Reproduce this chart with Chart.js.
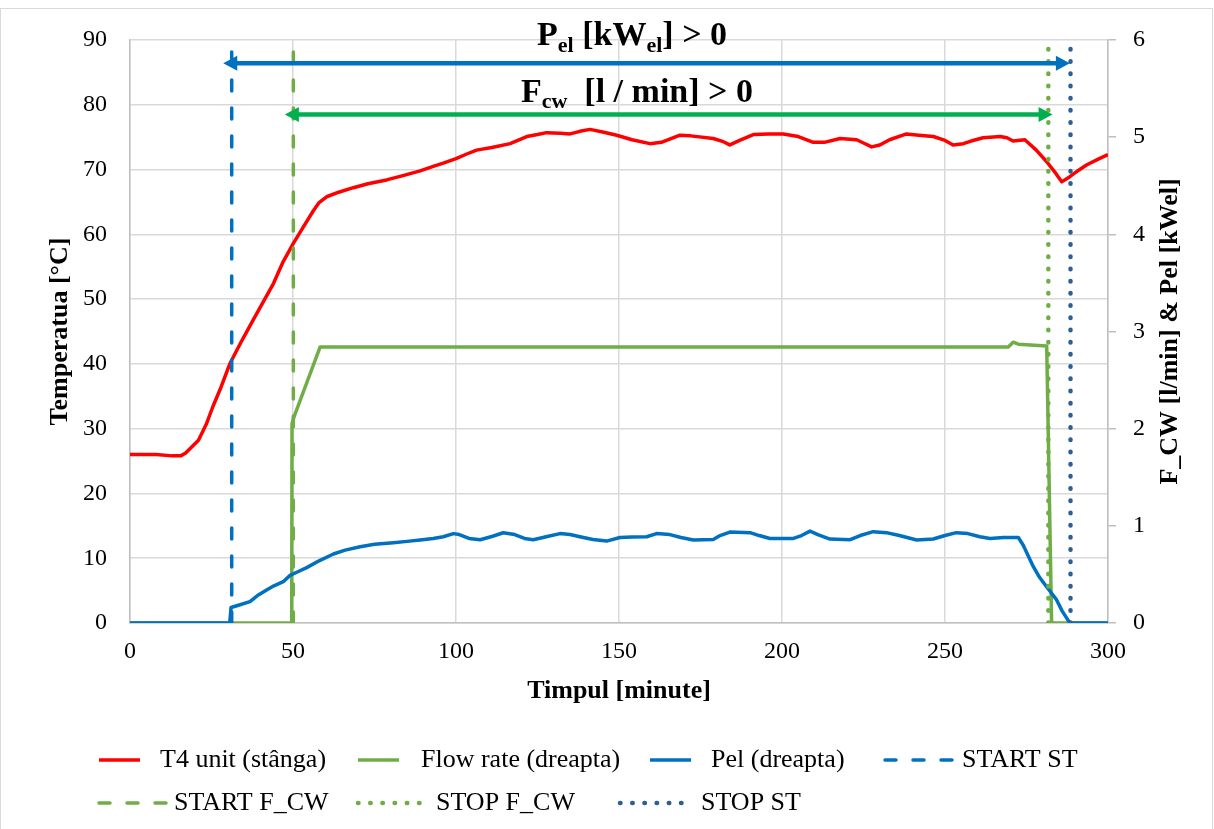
<!DOCTYPE html>
<html>
<head>
<meta charset="utf-8">
<script src="https://cdn.jsdelivr.net/npm/chart.js@4.4.1/dist/chart.umd.min.js"></script>
<style>
  html, body { margin: 0; padding: 0; background: #fff; }
  #wrap { width: 1214px; height: 829px; position: relative; }
</style>
</head>
<body>
<div id="wrap"><canvas id="chart" width="1214" height="829"></canvas></div>
<script>
// T4 unit temperature (left axis, °C)
const t4Time = [0, 8, 13, 15.5, 17, 19, 21, 23.5, 25.5, 27.6, 30.7, 34, 37.8, 41, 44, 47, 50.1, 53, 56.2, 58, 60.3,
  64, 68.5, 73, 78.7, 84, 89, 93, 96.1, 100, 103.3, 106.3, 111, 116.6, 121.7, 125, 127.8, 132, 135, 138, 141.1,
  145, 149.3, 154, 159.5, 163, 168.7, 172, 178.9, 182, 184, 187, 191.2, 196, 200.4, 205, 209.6, 213, 217.8,
  222.9, 225, 227.5, 230, 233, 238.2, 242, 246.4, 250, 252.5, 255.6, 258, 261.7, 266.9, 269, 270.9, 274.5,
  278, 281.2, 284, 285.8, 288.3, 291, 293.4, 297, 300];
const t4Temp = [26.0, 26.0, 25.8, 25.8, 26.2, 27.2, 28.2, 30.8, 33.5, 36.0, 40.1, 43.3, 46.8, 49.7, 52.4, 55.8, 58.6, 61, 63.6, 64.9, 65.8,
  66.5, 67.2, 67.8, 68.4, 69.1, 69.8, 70.5, 71.0, 71.7, 72.4, 73.0, 73.4, 74.0, 75.1, 75.4, 75.7, 75.6, 75.5, 75.9, 76.2,
  75.8, 75.3, 74.6, 74.0, 74.2, 75.3, 75.2, 74.8, 74.3, 73.8, 74.5, 75.4, 75.5, 75.5, 75.1, 74.2, 74.2, 74.8,
  74.6, 74.1, 73.5, 73.8, 74.6, 75.5, 75.3, 75.1, 74.5, 73.8, 74.0, 74.4, 74.9, 75.1, 74.9, 74.4, 74.6,
  73.0, 71.2, 69.4, 68.1, 68.9, 69.9, 70.7, 71.6, 72.3];

// cooling water flow rate (right axis, l/min)
const flowTime = [0, 49.6, 49.7, 50.3, 58.3, 269.4, 270.9, 272.5, 281.2, 282.7, 300];
const flowRate = [0, 0, 2.05, 2.12, 2.84, 2.84, 2.89, 2.87, 2.85, 0, 0];

// electrical power (right axis, kWel)
const pelTime = [0, 30.6, 31, 33, 36.8, 39, 41.9, 44, 47, 49.1, 51, 54.2, 58, 62.4, 66, 70.6, 75, 80.8, 85, 89,
  93, 96.1, 99.2, 101, 104, 107.4, 111, 114.5, 118, 121, 123.7, 128, 131.9, 135, 138, 142, 146.2, 150.3,
  154, 158.5, 161.5, 165.6, 169, 172.8, 178.9, 181, 184, 190.2, 193, 196.3, 203.5, 206, 208.6, 211, 214.7,
  220.9, 224, 228, 232, 236, 241.3, 246.4, 250, 253.5, 257, 260.7, 263.8, 268, 272.5, 274, 277.1, 279,
  281.2, 284.2, 286, 288.3, 300];
const pelPower = [0, 0, 0.16, 0.18, 0.22, 0.28, 0.34, 0.38, 0.425, 0.49, 0.52, 0.57, 0.64, 0.71, 0.75, 0.785, 0.81, 0.826, 0.84, 0.854,
  0.87, 0.888, 0.92, 0.91, 0.87, 0.857, 0.89, 0.929, 0.91, 0.87, 0.857, 0.89, 0.92, 0.91, 0.888, 0.86, 0.843, 0.88,
  0.885, 0.888, 0.92, 0.91, 0.88, 0.854, 0.86, 0.9, 0.936, 0.93, 0.9, 0.87, 0.87, 0.9, 0.946, 0.91, 0.864,
  0.857, 0.9, 0.94, 0.93, 0.9, 0.854, 0.864, 0.9, 0.93, 0.92, 0.888, 0.87, 0.88, 0.88, 0.8, 0.58, 0.47,
  0.37, 0.24, 0.12, 0, 0];

// start / stop markers (vertical lines, left axis units)
const markerLabels = ['START ST', 'START F_CW', 'STOP F_CW', 'STOP ST'];
const markerTimes = [31.2, 50.1, 281.7, 288.5];
const markerTops = [88.5, 88.5, 89.3, 89.3];

// "> 0" range arrows
const arrowLevels = [86.4, 78.5];
const arrowStart = [28.6, 47.5];
const arrowEnd = [288.3, 283.0];

const xTickValues = [0, 50, 100, 150, 200, 250, 300];
const leftTickValues = [0, 10, 20, 30, 40, 50, 60, 70, 80, 90];
const rightTickValues = [0, 1, 2, 3, 4, 5, 6];

const RED = '#FF0000';
const GREEN = '#70AD47';
const BLUE = '#0070C0';
const NAVY = '#2E5F94';
const ARROW_GREEN = '#00B050';
const SERIF = '"Liberation Serif", "Times New Roman", serif';

const pts = (xs, ys) => xs.map((x, i) => ({ x, y: ys[i] }));
const vline = i => [{ x: markerTimes[i], y: 0 }, { x: markerTimes[i], y: markerTops[i] }];

const solid = { borderWidth: 3.5, pointRadius: 0, tension: 0, fill: false, borderJoinStyle: 'round' };
const dashed = { borderWidth: 3.5, pointRadius: 0, borderDash: [11, 17], borderCapStyle: 'round', fill: false };
const dotted = { borderWidth: 4.5, pointRadius: 0, borderDash: [0.5, 11.7], borderCapStyle: 'round', fill: false };

const datasets = [
  { label: 'T4 unit (stânga)', data: pts(t4Time, t4Temp), borderColor: RED, yAxisID: 'y', order: 6, ...solid },
  { label: 'Flow rate (dreapta)', data: pts(flowTime, flowRate), borderColor: GREEN, yAxisID: 'y1', order: 5, ...solid },
  { label: 'Pel (dreapta)', data: pts(pelTime, pelPower), borderColor: BLUE, yAxisID: 'y1', order: 4, ...solid },
  { label: markerLabels[0], data: vline(0), borderColor: BLUE, yAxisID: 'y', order: 3, ...dashed },
  { label: markerLabels[1], data: vline(1), borderColor: GREEN, yAxisID: 'y', order: 2, ...dashed },
  { label: markerLabels[2], data: vline(2), borderColor: GREEN, yAxisID: 'y', order: 1, ...dotted },
  { label: markerLabels[3], data: vline(3), borderColor: NAVY, yAxisID: 'y', order: 0, ...dotted },
];

// legend placement: sample line [x0, x1], text start, row
const legendSlots = [
  { x0: 99, x1: 140, tx: 160, row: 0 },
  { x0: 358, x1: 399, tx: 421, row: 0 },
  { x0: 650, x1: 691, tx: 711, row: 0 },
  { x0: 885, x1: 956, tx: 962, row: 0 },
  { x0: 99, x1: 171, tx: 174, row: 1 },
  { x0: 358, x1: 422, tx: 436, row: 1 },
  { x0: 620, x1: 687, tx: 701, row: 1 },
];
const legendRowsY = [760, 803];

function drawArrow(ctx, x1, x2, y, color) {
  const head = 14, half = 7.5;
  ctx.save();
  ctx.strokeStyle = color;
  ctx.fillStyle = color;
  ctx.lineWidth = 4.5;
  ctx.beginPath();
  ctx.moveTo(x1 + head - 2, y);
  ctx.lineTo(x2 - head + 2, y);
  ctx.stroke();
  ctx.beginPath();
  ctx.moveTo(x1, y); ctx.lineTo(x1 + head, y - half); ctx.lineTo(x1 + head, y + half); ctx.closePath();
  ctx.fill();
  ctx.beginPath();
  ctx.moveTo(x2, y); ctx.lineTo(x2 - head, y - half); ctx.lineTo(x2 - head, y + half); ctx.closePath();
  ctx.fill();
  ctx.restore();
}

// text with subscript parts, centred on cx
function drawRichText(ctx, parts, cx, baseY, size) {
  const big = `bold ${size}px ${SERIF}`;
  const small = `bold ${Math.round(size * 0.66)}px ${SERIF}`;
  let total = 0;
  parts.forEach(p => { ctx.font = p[1] ? small : big; total += ctx.measureText(p[0]).width; });
  let x = cx - total / 2;
  ctx.fillStyle = '#000';
  ctx.textAlign = 'left';
  ctx.textBaseline = 'alphabetic';
  parts.forEach(p => {
    ctx.font = p[1] ? small : big;
    ctx.fillText(p[0], x, baseY + (p[1] ? size * 0.2 : 0));
    x += ctx.measureText(p[0]).width;
  });
}

const extras = {
  id: 'extras',
  beforeDraw(chart) {
    const ctx = chart.ctx;
    ctx.save();
    ctx.fillStyle = '#fff';
    ctx.fillRect(0, 0, chart.width, chart.height);
    ctx.strokeStyle = '#d9d9d9';
    ctx.lineWidth = 1;
    ctx.strokeRect(0.5, 8.5, chart.width - 2, chart.height);
    ctx.restore();
  },
  afterDraw(chart) {
    const ctx = chart.ctx;
    const xs = chart.scales.x, ys = chart.scales.y, y1 = chart.scales.y1;
    const area = chart.chartArea;

    drawArrow(ctx, xs.getPixelForValue(arrowStart[0]), xs.getPixelForValue(arrowEnd[0]),
      ys.getPixelForValue(arrowLevels[0]), BLUE);
    drawArrow(ctx, xs.getPixelForValue(arrowStart[1]), xs.getPixelForValue(arrowEnd[1]),
      ys.getPixelForValue(arrowLevels[1]), ARROW_GREEN);

    ctx.save();
    drawRichText(ctx, [['P', false], ['el', true], [' [kW', false], ['el', true], ['] > 0', false]],
      xs.getPixelForValue(154), ys.getPixelForValue(89.2), 34);
    drawRichText(ctx, [['F', false], ['cw', true], ['  [l / min] > 0', false]],
      xs.getPixelForValue(155.5), ys.getPixelForValue(80.5), 34);
    ctx.restore();

    // right axis title reads bottom to top
    ctx.save();
    ctx.translate(y1.right - 44, (area.top + area.bottom) / 2);
    ctx.rotate(-Math.PI / 2);
    ctx.font = `bold 26px ${SERIF}`;
    ctx.fillStyle = '#000';
    ctx.textAlign = 'center';
    ctx.textBaseline = 'middle';
    ctx.fillText('F_CW [l/min] & Pel [kWel]', 0, 0);
    ctx.restore();

    // legend
    ctx.save();
    chart.data.datasets.forEach((ds, i) => {
      const slot = legendSlots[i];
      const y = legendRowsY[slot.row];
      ctx.strokeStyle = ds.borderColor;
      ctx.lineWidth = ds.borderWidth;
      ctx.lineCap = ds.borderCapStyle || 'butt';
      ctx.setLineDash(ds.borderDash || []);
      ctx.beginPath();
      ctx.moveTo(slot.x0, y);
      ctx.lineTo(slot.x1, y);
      ctx.stroke();
      ctx.setLineDash([]);
      ctx.font = `26px ${SERIF}`;
      ctx.fillStyle = '#000';
      ctx.textAlign = 'left';
      ctx.textBaseline = 'middle';
      ctx.fillText(ds.label, slot.tx, y);
    });
    ctx.restore();
  }
};

const useTicks = values => scale => { scale.ticks = values.map(v => ({ value: v })); };

Chart.defaults.font.family = SERIF;
Chart.defaults.color = '#000';

new Chart(document.getElementById('chart'), {
  type: 'line',
  data: { datasets },
  options: {
    responsive: false,
    animation: false,
    devicePixelRatio: 1,
    layout: { padding: { top: 40, left: 0, right: 0, bottom: 0 } },
    plugins: { legend: { display: false }, tooltip: { enabled: false } },
    scales: {
      x: {
        type: 'linear', min: 0, max: 300,
        afterBuildTicks: useTicks(xTickValues),
        afterFit: s => { s.height = 206; },
        ticks: { font: { size: 24 }, padding: 14, maxRotation: 0 },
        grid: { color: '#d9d9d9', lineWidth: 1.5, drawTicks: false },
        border: { color: '#bfbfbf', width: 1.5 },
        title: { display: true, text: 'Timpul [minute]', font: { size: 26, weight: 'bold' }, padding: { top: 0, bottom: 122 } },
      },
      y: {
        position: 'left', min: 0, max: 90,
        afterBuildTicks: useTicks(leftTickValues),
        afterFit: s => { s.width = 130; },
        ticks: { font: { size: 24 }, padding: 23 },
        grid: { color: '#d9d9d9', lineWidth: 1.5, drawTicks: false },
        border: { color: '#bfbfbf', width: 1.5 },
        title: { display: true, text: 'Temperatua [°C]', font: { size: 26, weight: 'bold' }, padding: { top: 45, bottom: 0 } },
      },
      y1: {
        position: 'right', min: 0, max: 6,
        afterBuildTicks: useTicks(rightTickValues),
        afterFit: s => { s.width = 106; },
        ticks: { font: { size: 24 }, padding: 17 },
        grid: { drawOnChartArea: false, drawTicks: true, tickLength: 8, color: '#bfbfbf', lineWidth: 1.5 },
        border: { color: '#bfbfbf', width: 1.5 },
      },
    },
  },
  plugins: [extras],
});
</script>
</body>
</html>
